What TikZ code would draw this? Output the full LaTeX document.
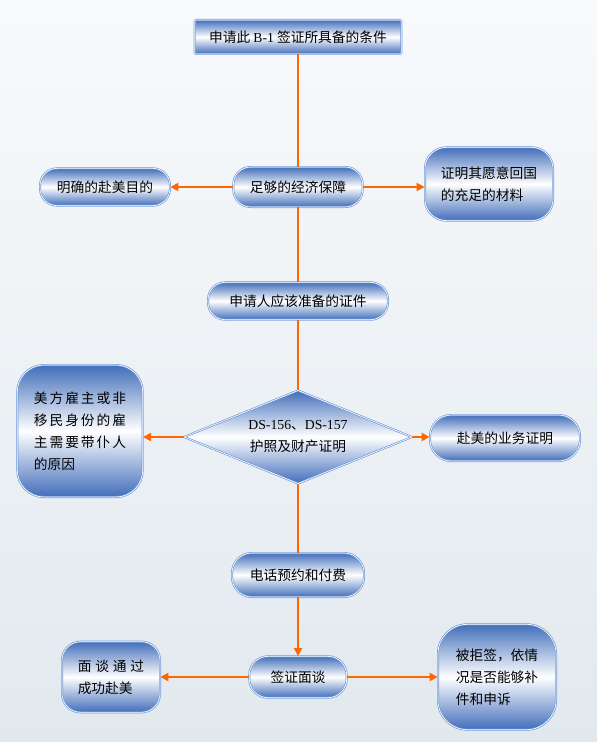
\documentclass[tikz,border=0pt]{standalone}
\usepackage{fontspec}
\setmainfont{Liberation Serif}
\newfontfamily\cjk{Noto Sans CJK SC}
\newfontfamily\cjkwide[LetterSpace=14]{Noto Sans CJK SC}
\newfontfamily\cjkwider[LetterSpace=28]{Noto Sans CJK SC}
\definecolor{vbblue}{RGB}{66,110,186}
\definecolor{vbborder}{RGB}{110,150,215}
\definecolor{vborange}{RGB}{255,102,0}
\definecolor{vbbgtop}{RGB}{248,250,252}
\definecolor{vbbgbot}{RGB}{226,233,238}
\usetikzlibrary{arrows.meta,shapes.geometric}

\begin{document}
\begin{tikzpicture}[x=0.75pt,y=-0.75pt,
  font=\cjk\fontsize{10.3}{16.5}\selectfont,
  boxbase/.style={draw=vbborder,double=white,double distance=0.5pt,line width=0.5pt,
    top color=vbblue,bottom color=vbblue,middle color=white,inner sep=2pt,align=center},
  topbox/.style={boxbase,minimum width=155pt,minimum height=25.5pt,rounded corners=1pt},
  pill/.style={boxbase,rounded corners=13pt},
  tallbox/.style={boxbase,align=left},
  decision/.style={boxbase,diamond,aspect=2.45,minimum width=171pt,minimum height=70pt,inner sep=0pt},
  flowline/.style={draw=vborange,line width=1.6pt},
  flowarrow/.style={flowline,-{Triangle[length=6pt,width=6pt]}}]
% background
\fill[top color=vbbgtop,bottom color=vbbgbot] (0,0) rectangle (597,742);
\useasboundingbox (0,0) rectangle (597,742);
% main column
\node[topbox] (cond) at (298,37) {申请此 {\rmfamily B-1} 签证所具备的条件};
\node[pill,minimum width=97pt,minimum height=30pt] (fund) at (298,187) {足够的经济保障};
\node[pill,minimum width=135pt,minimum height=28pt] (docs) at (298,301) {申请人应该准备的证件};
\node[decision] (forms) at (298,437) {{\rmfamily DS-156}、{\rmfamily DS-157}\\护照及财产证明};
\node[pill,minimum width=99pt,minimum height=33pt,rounded corners=15pt] (booking) at (298,575) {电话预约和付费};
\node[pill,minimum width=73pt,minimum height=31pt,rounded corners=14pt] (interview) at (298,677) {签证面谈};
% side boxes
\node[pill,minimum width=97.5pt,minimum height=28pt] (purpose) at (105,187) {明确的赴美目的};
\node[tallbox,minimum width=96pt,minimum height=55pt,rounded corners=16pt] (ties) at (489,184) {证明其愿意回国\\的充足的材料};
\node[tallbox,minimum width=94pt,minimum height=99pt,rounded corners=20pt] (servant) at (80,431)
  {{\cjkwide 美方雇主或非}\\{\cjkwide 移民身份的雇}\\{\cjkwide 主需要带仆人}\\的原因};
\node[pill,minimum width=112.5pt,minimum height=34.5pt,rounded corners=16pt] (business) at (505,438) {赴美的业务证明};
\node[tallbox,minimum width=73.5pt,minimum height=53pt,rounded corners=14pt] (pass) at (111,677) {{\cjkwider 面谈通过}\\成功赴美};
\node[tallbox,minimum width=88.5pt,minimum height=79pt,rounded corners=22pt] (refused) at (497,677) {被拒签，依情\\况是否能够补\\件和申诉};
% connectors
\draw[flowline] (cond) -- (fund);
\draw[flowline] (fund) -- (docs);
\draw[flowline] (docs) -- (forms);
\draw[flowline] (forms) -- (booking);
\draw[flowarrow] (booking) -- (interview);
\draw[flowarrow] (fund) -- (purpose);
\draw[flowarrow] (fund.east) -- (fund.east -| ties.west);
\draw[flowarrow] (forms.west) -- (forms.west -| servant.east);
\draw[flowarrow] (forms.east) -- (forms.east -| business.west);
\draw[flowarrow] (interview) -- (pass);
\draw[flowarrow] (interview) -- (refused);
\end{tikzpicture}
\end{document}
